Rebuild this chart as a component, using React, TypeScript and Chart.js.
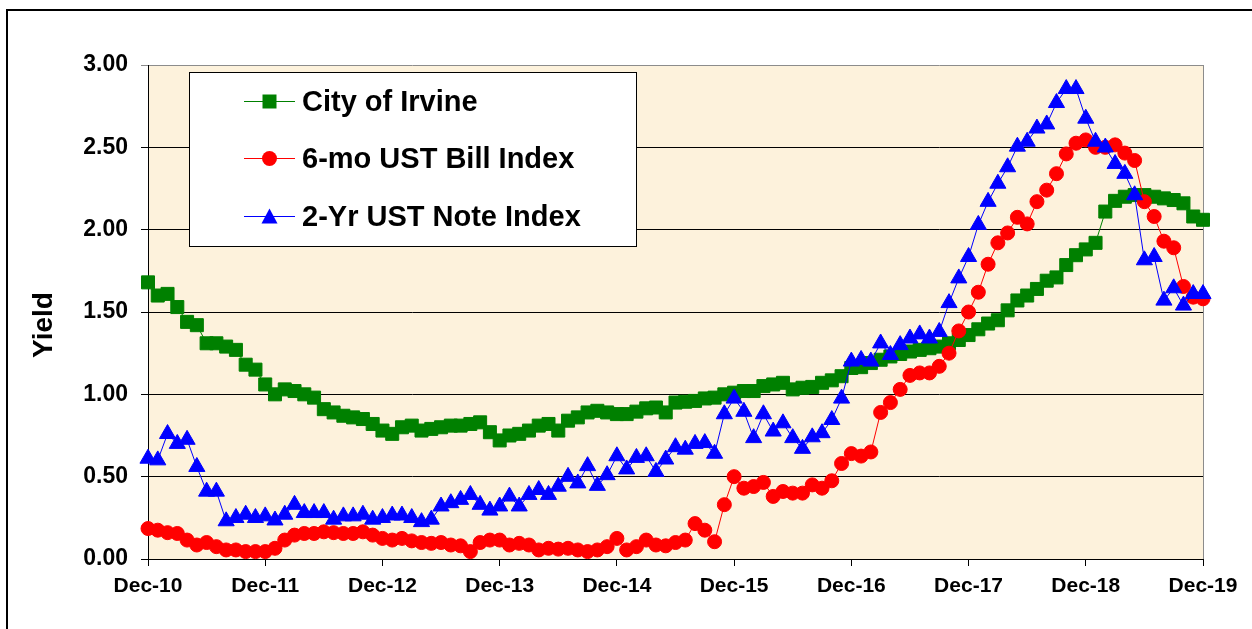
import React, { useEffect, useRef } from 'react';
import { Chart, registerables } from 'chart.js';

Chart.register(...registerables);

// ---------- data ----------
const MONTH_NAMES = ['Jan', 'Feb', 'Mar', 'Apr', 'May', 'Jun', 'Jul', 'Aug', 'Sep', 'Oct', 'Nov', 'Dec'];
const N_MONTHS = 109; // Dec-10 .. Dec-19
const categories: string[] = Array.from({ length: N_MONTHS }, (_, i) => {
  const m = (11 + i) % 12;
  const y = 10 + Math.floor((11 + i) / 12);
  return `${MONTH_NAMES[m]}-${String(y).padStart(2, '0')}`;
});

const SERIES_NAMES = ['City of Irvine', '6-mo UST Bill Index', '2-Yr UST Note Index'];

const irvine = [
  1.68, 1.60, 1.61, 1.53, 1.44, 1.42, 1.31, 1.31, 1.29, 1.27, 1.18, 1.15, 1.06, 1.00, 1.03, 1.02, 1.00, 0.98, 0.91, 0.89,
  0.87, 0.86, 0.85, 0.82, 0.78, 0.76, 0.80, 0.81,
  0.78, 0.79, 0.80, 0.81, 0.81, 0.82, 0.83, 0.77, 0.72, 0.75, 0.76, 0.78, 0.81, 0.82, 0.78, 0.84, 0.86, 0.89, 0.90, 0.89,
  0.88, 0.88, 0.895, 0.915, 0.92, 0.89, 0.95, 0.955, 0.96, 0.975, 0.98, 1.00, 1.01,
  1.02, 1.02, 1.05, 1.06, 1.07, 1.03, 1.04, 1.045, 1.07, 1.085, 1.11, 1.16, 1.165, 1.19, 1.21, 1.23, 1.245, 1.26, 1.27,
  1.28, 1.29,
  1.31, 1.33, 1.36, 1.395, 1.43, 1.45, 1.51, 1.57, 1.60, 1.64, 1.69, 1.71, 1.785, 1.845, 1.88, 1.92, 2.11, 2.175, 2.20,
  2.21, 2.21, 2.20, 2.19, 2.18, 2.16, 2.08, 2.06,
];

const billIndex = [
  0.185, 0.175, 0.16, 0.155, 0.115, 0.085, 0.10, 0.075, 0.055, 0.055, 0.045, 0.045, 0.045, 0.065, 0.115, 0.145, 0.155,
  0.155, 0.165, 0.16, 0.155, 0.155, 0.165, 0.145, 0.125, 0.115, 0.125, 0.11,
  0.10, 0.095, 0.10, 0.085, 0.08, 0.045, 0.10, 0.115, 0.115, 0.085, 0.095, 0.085, 0.055, 0.065, 0.06, 0.065, 0.055,
  0.045, 0.055, 0.075, 0.125, 0.055, 0.075, 0.115, 0.085, 0.08, 0.10,
  0.115, 0.215, 0.175, 0.105, 0.33, 0.50, 0.43, 0.44, 0.465, 0.38, 0.41, 0.40, 0.40, 0.45, 0.43, 0.475, 0.58, 0.64,
  0.625, 0.65, 0.89, 0.95, 1.03, 1.115, 1.13, 1.13, 1.17,
  1.25, 1.385, 1.50, 1.62, 1.79, 1.92, 1.98, 2.075, 2.035, 2.17, 2.24, 2.34, 2.46, 2.525, 2.545, 2.50, 2.50, 2.515,
  2.465, 2.42, 2.17, 2.08, 1.93, 1.89, 1.655, 1.59, 1.58,
];

const noteIndex = [
  0.61, 0.60, 0.76, 0.70, 0.725, 0.56, 0.41, 0.41, 0.23, 0.25, 0.27, 0.25, 0.26, 0.235, 0.27, 0.33, 0.28, 0.28, 0.28,
  0.24, 0.26, 0.26, 0.27, 0.24, 0.25, 0.265, 0.265, 0.25,
  0.225, 0.24, 0.32, 0.34, 0.36, 0.39, 0.33, 0.295, 0.32, 0.38, 0.32, 0.39, 0.42, 0.39, 0.44, 0.50, 0.46, 0.565, 0.445,
  0.51, 0.625, 0.545, 0.615, 0.625, 0.53, 0.605, 0.68,
  0.665, 0.70, 0.705, 0.64, 0.88, 0.975, 0.895, 0.735, 0.88, 0.775, 0.825, 0.735, 0.67, 0.74, 0.765, 0.845, 0.975,
  1.20, 1.21, 1.20, 1.31, 1.24, 1.30, 1.34, 1.365, 1.34, 1.38,
  1.555, 1.705, 1.835, 2.03, 2.17, 2.28, 2.38, 2.505, 2.535, 2.615, 2.64, 2.77, 2.855, 2.855, 2.675, 2.535, 2.50, 2.40,
  2.34, 2.21, 1.815, 1.835, 1.57, 1.645, 1.54, 1.61, 1.61,
];

const Y_MIN = 0;
const Y_MAX = 3;
const Y_STEP = 0.5;
const X_LABEL_EVERY = 12;

// ---------- styles ----------
const GREEN = '#008000';
const RED = '#FF0000';
const BLUE = '#0000FF';
const PLOT_BG = '#FDF2DC';
const FONT = "'Liberation Sans', Arial, Helvetica, sans-serif";

const legendItems = [
  { label: SERIES_NAMES[0], color: GREEN, style: 'rect' },
  { label: SERIES_NAMES[1], color: RED, style: 'circle' },
  { label: SERIES_NAMES[2], color: BLUE, style: 'triangle' },
];

function drawMarker(ctx: CanvasRenderingContext2D, style: string, x: number, y: number, color: string) {
  ctx.fillStyle = color;
  ctx.beginPath();
  if (style === 'rect') {
    ctx.rect(x - 7, y - 7, 14, 14);
  } else if (style === 'circle') {
    ctx.arc(x, y, 7.5, 0, Math.PI * 2);
  } else {
    ctx.moveTo(x, y - 8);
    ctx.lineTo(x + 8, y + 7);
    ctx.lineTo(x - 8, y + 7);
    ctx.closePath();
  }
  ctx.fill();
}

const decorPlugin = {
  id: 'decor',
  beforeDraw(chart: any) {
    const { ctx, chartArea: a } = chart;
    ctx.save();
    ctx.fillStyle = '#FFFFFF';
    ctx.fillRect(0, 0, chart.width, chart.height);
    ctx.fillStyle = PLOT_BG;
    ctx.fillRect(a.left, a.top, a.right - a.left, a.bottom - a.top);
    // outer frame (left and top edges visible)
    ctx.fillStyle = '#000000';
    ctx.fillRect(6, 9, chart.width, 2);
    ctx.fillRect(6, 9, 2, chart.height);
    ctx.restore();
  },
  beforeDatasetsDraw(chart: any) {
    const { ctx, chartArea: a } = chart;
    ctx.save();
    // right border of plot area
    ctx.fillStyle = '#8C8C8C';
    ctx.fillRect(Math.round(a.right), a.top, 1, a.bottom - a.top);
    // legend box
    const bx = 189.5, by = 72.5, bw = 447, bh = 174;
    ctx.fillStyle = '#FFFFFF';
    ctx.fillRect(bx, by, bw, bh);
    ctx.strokeStyle = '#000000';
    ctx.lineWidth = 1;
    ctx.strokeRect(bx, by, bw, bh);
    const rows = [101.5, 158.5, 216.5];
    legendItems.forEach((it, k) => {
      const y = rows[k];
      ctx.strokeStyle = it.color;
      ctx.lineWidth = 1;
      ctx.beginPath();
      ctx.moveTo(244, y);
      ctx.lineTo(295, y);
      ctx.stroke();
      drawMarker(ctx, it.style, 269.5, y, it.color);
      ctx.fillStyle = '#000000';
      ctx.font = `bold 29px ${FONT}`;
      ctx.textAlign = 'left';
      ctx.textBaseline = 'middle';
      ctx.fillText(it.label, 302, y + 1);
    });
    ctx.restore();
  },
  afterDraw(chart: any) {
    const { ctx } = chart;
    ctx.save();
    ctx.translate(44, 325);
    ctx.rotate(-Math.PI / 2);
    ctx.fillStyle = '#000000';
    ctx.font = `bold 28px ${FONT}`;
    ctx.textAlign = 'center';
    ctx.textBaseline = 'middle';
    ctx.fillText('Yield', 0, 0);
    ctx.restore();
  },
};

export default function App() {
  const ref = useRef<HTMLCanvasElement>(null);

  useEffect(() => {
    if (!ref.current) return;
    const chart = new Chart(ref.current, {
      type: 'line',
      data: {
        labels: categories,
        datasets: [
          {
            label: SERIES_NAMES[0],
            data: irvine,
            borderColor: GREEN,
            backgroundColor: GREEN,
            borderWidth: 1,
            pointStyle: 'rect',
            pointRadius: 9.2,
            pointBorderWidth: 1,
            pointBackgroundColor: GREEN,
            pointBorderColor: GREEN,
            tension: 0,
            clip: false,
            order: 3,
          },
          {
            label: SERIES_NAMES[1],
            data: billIndex,
            borderColor: RED,
            backgroundColor: RED,
            borderWidth: 1,
            pointStyle: 'circle',
            pointRadius: 7,
            pointBorderWidth: 1,
            pointBackgroundColor: RED,
            pointBorderColor: RED,
            tension: 0,
            clip: false,
            order: 2,
          },
          {
            label: SERIES_NAMES[2],
            data: noteIndex,
            borderColor: BLUE,
            backgroundColor: BLUE,
            borderWidth: 1,
            pointStyle: 'triangle',
            pointRadius: 9.3,
            pointBorderWidth: 1,
            pointBackgroundColor: BLUE,
            pointBorderColor: BLUE,
            tension: 0,
            clip: false,
            order: 1,
          },
        ],
      },
      options: {
        responsive: false,
        maintainAspectRatio: false,
        animation: false,
        devicePixelRatio: 1,
        events: [],
        layout: { padding: { left: 0, right: 49, top: 65, bottom: 0 } },
        plugins: {
          legend: { display: false },
          tooltip: { enabled: false },
          title: { display: false },
        },
        scales: {
          x: {
            type: 'category',
            offset: false,
            grid: {
              display: true,
              drawOnChartArea: false,
              drawTicks: true,
              tickLength: 7,
              color: (c: any) => (c.index % X_LABEL_EVERY === 0 ? '#000000' : 'rgba(0,0,0,0)'),
            },
            border: { display: true, color: '#000000', width: 1 },
            ticks: {
              autoSkip: false,
              maxRotation: 0,
              minRotation: 0,
              padding: 8,
              color: '#000000',
              font: { family: FONT, size: 21, weight: 'bold' },
              callback: (_v: any, i: number) => (i % X_LABEL_EVERY === 0 ? categories[i] : ''),
            },
            afterFit: (s: any) => {
              s.height = 70;
            },
          },
          y: {
            min: Y_MIN,
            max: Y_MAX,
            ticks: {
              stepSize: Y_STEP,
              padding: 13,
              color: '#000000',
              font: { family: FONT, size: 23, weight: 'bold' },
              callback: (v: any) => Number(v).toFixed(2),
            },
            grid: {
              tickLength: 7,
              lineWidth: 1,
              color: (c: any) => (c.tick && c.tick.value === Y_MAX ? '#8C8C8C' : '#000000'),
            },
            border: { display: true, color: '#000000', width: 1 },
            afterFit: (s: any) => {
              s.width = 148;
            },
          },
        },
      } as any,
      plugins: [decorPlugin],
    });
    return () => chart.destroy();
  }, []);

  return (
    <div style={{ position: 'absolute', left: 0, top: 0, width: 1252, height: 629, background: '#FFFFFF' }}>
      <canvas ref={ref} width={1252} height={629} style={{ display: 'block', width: 1252, height: 629 }} />
    </div>
  );
}
